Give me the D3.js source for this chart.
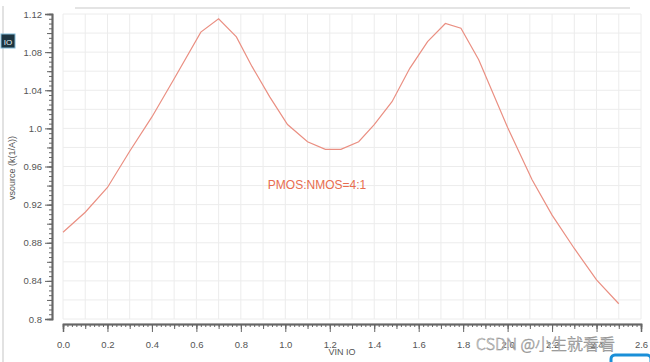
<!DOCTYPE html>
<html lang="en">
  <head>
    <meta charset="utf-8">
    <title>vsource vs VIN IO</title>
    <style>
      body { margin: 0; background: #fff; }
      svg { display: block; font-family: "Liberation Sans", Arial, sans-serif; }
      .grid line { stroke: #ececec; stroke-width: 1; }
      .ruler path, .ruler line { stroke: #666; }
      .ruler text { fill: #555; font-size: 9.5px; }
    </style>
  </head>
  <body>
    <svg width="650" height="362"></svg>

    <script src="https://d3js.org/d3.v7.min.js"></script>
    <script>

    // data
    var vin = [0.0, 0.1, 0.2, 0.3, 0.4, 0.5, 0.62, 0.7, 0.78, 0.85, 0.93, 1.01, 1.10, 1.18, 1.25,
               1.33, 1.40, 1.48, 1.56, 1.64, 1.72, 1.79, 1.87, 2.0, 2.11, 2.2, 2.3, 2.4, 2.5];
    var vsource = [0.891, 0.912, 0.938, 0.976, 1.012, 1.052, 1.101, 1.115, 1.096, 1.065, 1.033, 1.004, 0.986, 0.978, 0.978,
                   0.986, 1.004, 1.028, 1.063, 1.091, 1.110, 1.105, 1.072, 1.001, 0.946, 0.909, 0.874, 0.841, 0.816];
    var xLabels = [0.0, 0.2, 0.4, 0.6, 0.8, 1.0, 1.2, 1.4, 1.6, 1.8, 2.0, 2.2, 2.4, 2.6];
    var yLabels = [0.8, 0.84, 0.88, 0.92, 0.96, 1.0, 1.04, 1.08, 1.12];

    var svg = d3.select("svg");

    var x = d3.scaleLinear().domain([0, 2.6]).range([63, 641]);
    var y = d3.scaleLinear().domain([0.8, 1.12]).range([319, 14]);

    function fmt(d) {
      var s = d3.format(".2~f")(d);
      return s.indexOf(".") < 0 ? s + ".0" : s;
    }

    // window frame bits
    svg.append("line").attr("x1", 3).attr("x2", 3).attr("y1", 6).attr("y2", 362)
        .attr("stroke", "#d8d8d8").attr("stroke-width", 1.5);
    svg.append("line").attr("x1", 75).attr("x2", 630).attr("y1", 8).attr("y2", 8)
        .attr("stroke", "#e4e4e4").attr("stroke-width", 2);
    svg.append("rect").attr("x", 1).attr("y", 34).attr("width", 14).attr("height", 14)
        .attr("fill", "#1d3440").attr("stroke", "#7fb8d6").attr("stroke-width", 1);
    svg.append("text").attr("x", 8).attr("y", 44.5).attr("text-anchor", "middle")
        .attr("fill", "#e8f4f8").style("font-size", "8px").text("IO");

    // grid
    var grid = svg.append("g").attr("class", "grid");
    grid.selectAll(".gx").data(d3.range(0, 27).map(function(i) { return i / 10; }))
      .enter().append("line")
        .attr("x1", function(d) { return x(d); }).attr("x2", function(d) { return x(d); })
        .attr("y1", y(1.12)).attr("y2", y(0.8));
    grid.selectAll(".gy").data(d3.range(0, 17).map(function(i) { return 0.8 + i * 0.02; }))
      .enter().append("line")
        .attr("y1", function(d) { return y(d); }).attr("y2", function(d) { return y(d); })
        .attr("x1", x(0)).attr("x2", x(2.6));

    // x ruler (sits below the plot)
    var xr = svg.append("g").attr("class", "ruler").attr("transform", "translate(0,324)");
    xr.call(d3.axisBottom(x).tickValues(d3.range(0, 131).map(function(i) { return i / 50; }))
        .tickSize(3).tickFormat(""));
    xr.append("g").call(d3.axisBottom(x).tickValues(d3.range(0, 27).map(function(i) { return i / 10; }))
        .tickSize(5).tickFormat(""));
    xr.append("g").call(d3.axisBottom(x).tickValues(xLabels).tickSize(8).tickPadding(9).tickFormat(fmt));
    xr.selectAll(".domain").attr("stroke-width", 1.5);

    // y ruler
    var yr = svg.append("g").attr("class", "ruler").attr("transform", "translate(52,0)");
    yr.call(d3.axisLeft(y).tickValues(d3.range(0, 65).map(function(i) { return 0.8 + i * 0.005; }))
        .tickSize(3).tickFormat(""));
    yr.append("g").call(d3.axisLeft(y).tickValues(d3.range(0, 17).map(function(i) { return 0.8 + i * 0.02; }))
        .tickSize(5).tickFormat(""));
    yr.append("g").call(d3.axisLeft(y).tickValues(yLabels).tickSize(7).tickPadding(3).tickFormat(fmt));
    yr.selectAll(".domain").attr("stroke-width", 1.5);

    // axis titles
    svg.append("text").attr("x", 342).attr("y", 355).attr("text-anchor", "middle")
        .attr("fill", "#555").style("font-size", "9px").text("VIN IO");
    svg.append("text").attr("transform", "translate(15,168) rotate(-90)").attr("text-anchor", "middle")
        .attr("fill", "#555").style("font-size", "9px").text("vsource (k(1/A))");

    // curve
    var pts = vin.map(function(d, i) { return [d, vsource[i]]; });
    var line = d3.line().x(function(d) { return x(d[0]); }).y(function(d) { return y(d[1]); });
    svg.append("path").datum(pts).attr("d", line)
        .attr("fill", "none").attr("stroke", "#ea8f82").attr("stroke-width", 1.2);

    svg.append("text").attr("x", 317).attr("y", 189).attr("text-anchor", "middle")
        .attr("fill", "#e86d4f").style("font-size", "12px").text("PMOS:NMOS=4:1");

    // watermark
    svg.append("text").attr("x", 476).attr("y", 350)
        .attr("fill", "#fafafa").attr("stroke", "#8a8a8a").attr("stroke-width", 0.5)
        .style("font-family", "'Noto Sans CJK SC', sans-serif").style("font-size", "16px")
        .style("font-weight", 300)
        .text("CSDN @小生就看看");

    // little badge in the corner
    svg.append("rect").attr("x", 611).attr("y", 355).attr("width", 40).attr("height", 14).attr("rx", 4)
        .attr("fill", "#fff").attr("stroke", "#1a8fd8").attr("stroke-width", 3);

    </script>
  </body>
</html>
